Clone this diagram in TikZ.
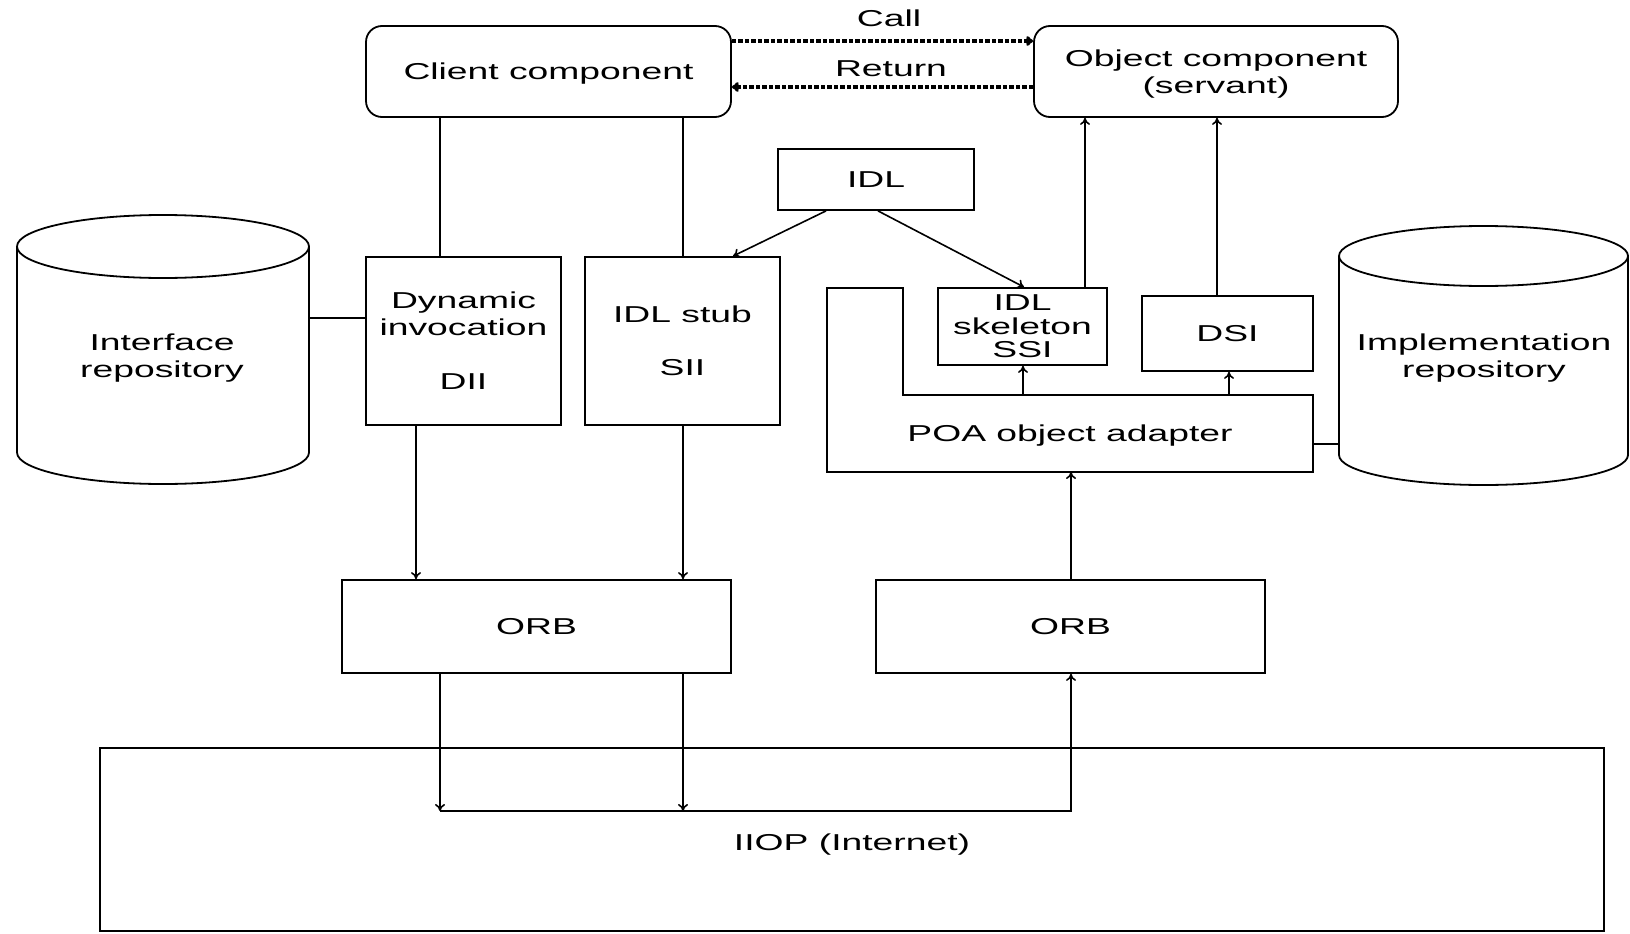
\documentclass[tikz,border=0pt]{standalone}
\usepackage{fontspec}
\setmainfont{Liberation Sans}[FakeStretch=1.62]
\usetikzlibrary{arrows.meta}
\begin{document}
\begin{tikzpicture}[x=1pt,y=-1pt,
  every node/.style={font=\fontsize{23}{27}\selectfont, align=center, inner sep=0pt},
  box/.style={draw, line width=1.8pt},
  rbox/.style={draw, line width=1.8pt, rounded corners=16pt},
  ln/.style={line width=1.6pt},
  cyl/.style={line width=1.8pt},
  arr/.style={line width=1.6pt, -{To[length=7pt,width=10pt]}},
  darr/.style={line width=3.2pt, dash pattern=on 4.5pt off 2pt, -{To[length=7pt,width=10pt]}},
  lbl/.style={font=\fontsize{23}{27}\selectfont}]
\useasboundingbox (0,0) rectangle (1630,934);

% top components
\node[rbox, minimum width=365pt, minimum height=91pt, text depth=0pt] (client) at (548.5,71.5) {Client component};
\node[rbox, minimum width=364pt, minimum height=91pt, text depth=0pt] (object) at (1216,71.5) {Object component\\(servant)};
\node[lbl] (call) at (889,18) {Call};
\node[lbl] (ret) at (891,69) {Return};
\draw[darr] (client.east |- 0,41) -- (object.west |- 0,41);
\draw[darr] (object.west |- 0,87) -- (client.east |- 0,87);

% IDL
\node[box, minimum width=196pt, minimum height=61pt] (idl) at (876,179.5) {IDL};

% client side boxes
\node[box, minimum width=195pt, minimum height=168pt] (dii) at (463.5,341) {Dynamic\\invocation\\[27pt]DII};
\node[box, minimum width=195pt, minimum height=168pt] (stub) at (682.5,341) {IDL stub\\[26pt]SII};

% interface repository cylinder
\draw[cyl] (17,246.5) -- (17,452.5) arc[start angle=180, end angle=360, x radius=146pt, y radius=31.5pt] -- (309,246.5);
\draw[cyl] (163,246.5) ellipse[x radius=146pt, y radius=31.5pt];
\node[lbl] (ir) at (162,358) {Interface\\repository};
\coordinate (irR) at (309,318);

% implementation repository cylinder
\draw[cyl] (1339,256) -- (1339,455) arc[start angle=180, end angle=360, x radius=144.5pt, y radius=30pt] -- (1628,256);
\draw[cyl] (1483.5,256) ellipse[x radius=144.5pt, y radius=30pt];
\node[lbl] (impl) at (1484,358) {Implementation\\repository};
\coordinate (implL) at (1339,444);

% POA object adapter (L-shape)
\draw[line width=1.8pt] (827,288) -- (903,288) -- (903,395) -- (1313,395) -- (1313,472) -- (827,472) -- cycle;
\node[lbl] (poa) at (1070,436) {POA object adapter};
\coordinate (poaR) at (1313,444);

% server side boxes
\node[box, minimum width=169pt, minimum height=77pt, font=\fontsize{23}{23.5}\selectfont] (skel) at (1022.5,326.5) {IDL\\skeleton\\SSI};
\node[box, minimum width=171pt, minimum height=75pt] (dsi) at (1227.5,333.5) {DSI};

% ORBs
\node[box, minimum width=389pt, minimum height=93pt] (orbL) at (536.5,626.5) {ORB};
\node[box, minimum width=389pt, minimum height=93pt] (orbR) at (1070.5,626.5) {ORB};

% IIOP
\draw[line width=1.8pt] (100,931) -- (100,748) -- (1604,748) -- (1604,931) -- cycle;
\node[lbl] (iiop) at (852,845) {IIOP (Internet)};

% connectors
\draw[ln] (440,0 |- client.south) -- (440,0 |- dii.north);
\draw[ln] (683,0 |- client.south) -- (683,0 |- stub.north);
\draw[ln] (irR) -- (dii.west |- irR);
\draw[ln] (poaR) -- (implL);

\draw[arr] (826,0 |- idl.south) -- (733,0 |- stub.north);
\draw[arr] (878,0 |- idl.south) -- (1024,0 |- skel.north);

\draw[arr] (1085,0 |- skel.north) -- (1085,0 |- object.south);
\draw[arr] (1217,0 |- dsi.north) -- (1217,0 |- object.south);
\draw[arr] (1023,395) -- (1023,0 |- skel.south);
\draw[arr] (1229,395) -- (1229,0 |- dsi.south);

\draw[arr] (416,0 |- dii.south) -- (416,0 |- orbL.north);
\draw[arr] (683,0 |- stub.south) -- (683,0 |- orbL.north);
\draw[arr] (1071,0 |- orbR.north) -- (1071,472);

\coordinate (b1) at (440,811);
\coordinate (b2) at (683,811);
\coordinate (b3) at (1071,811);
\draw[arr] (440,0 |- orbL.south) -- (b1);
\draw[arr] (683,0 |- orbL.south) -- (b2);
\draw[arr] (b1) -- (b3) -- (1071,0 |- orbR.south);
\end{tikzpicture}
\end{document}
